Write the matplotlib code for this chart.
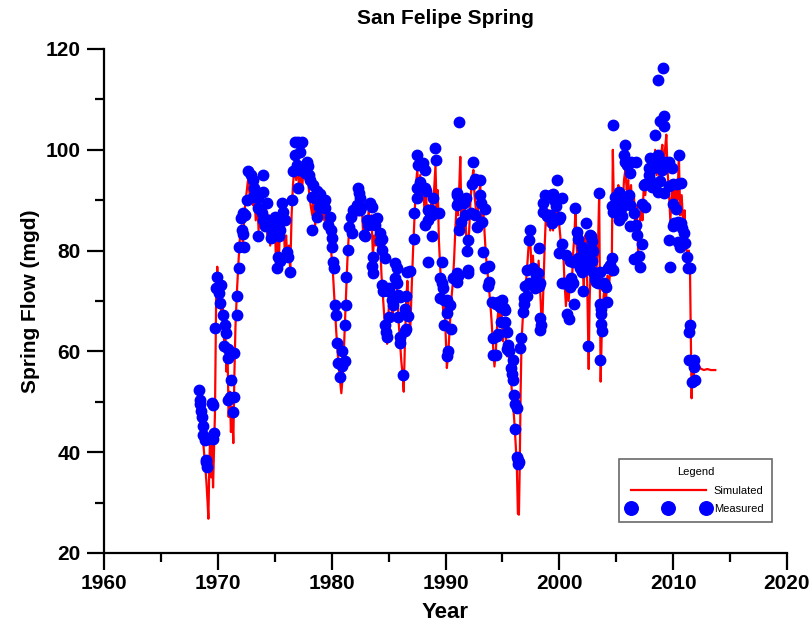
import numpy as np
import matplotlib
matplotlib.use('Agg')
import matplotlib.pyplot as plt
from matplotlib.ticker import MultipleLocator

plt.rcParams['font.family'] = ['Liberation Sans', 'DejaVu Sans']

sim_year = [1968.30, 1968.45, 1968.60, 1968.75, 1968.90, 1969.00, 1969.10, 1969.17, 1969.25, 1969.33,
            1969.42, 1969.50, 1969.58, 1969.66, 1969.75, 1969.85, 1969.95, 1970.05, 1970.18, 1970.30,
            1970.42, 1970.55, 1970.65, 1970.75, 1970.85, 1970.95, 1971.05, 1971.15, 1971.25, 1971.36,
            1971.45, 1971.55, 1971.68, 1971.82, 1971.95, 1972.08, 1972.20, 1972.35, 1972.50, 1972.65,
            1972.80, 1972.95, 1973.08, 1973.20, 1973.33, 1973.46, 1973.58, 1973.72, 1973.85, 1973.98,
            1974.10, 1974.22, 1974.35, 1974.48, 1974.60, 1974.72, 1974.85, 1975.00, 1975.12, 1975.25,
            1975.38, 1975.50, 1975.62, 1975.75, 1975.88, 1976.00, 1976.12, 1976.25, 1976.36, 1976.48,
            1976.60, 1976.75, 1976.88, 1977.00, 1977.12, 1977.25, 1977.40, 1977.55, 1977.70, 1977.85,
            1978.00, 1978.15, 1978.30, 1978.42, 1978.55, 1978.70, 1978.82, 1978.95, 1979.08, 1979.20,
            1979.35, 1979.50, 1979.65, 1979.80, 1979.95, 1980.10, 1980.25, 1980.40, 1980.55, 1980.70,
            1980.85, 1981.00, 1981.12, 1981.25, 1981.38, 1981.50, 1981.62, 1981.75, 1981.88, 1982.00,
            1982.12, 1982.25, 1982.38, 1982.50, 1982.62, 1982.75, 1982.88, 1983.00, 1983.12, 1983.25,
            1983.38, 1983.50, 1983.62, 1983.75, 1983.88, 1984.00, 1984.12, 1984.25, 1984.38, 1984.50,
            1984.62, 1984.75, 1984.87, 1985.00, 1985.12, 1985.25, 1985.38, 1985.50, 1985.62, 1985.75,
            1985.88, 1986.00, 1986.12, 1986.25, 1986.33, 1986.45, 1986.55, 1986.65, 1986.78, 1986.90,
            1987.02, 1987.15, 1987.28, 1987.40, 1987.52, 1987.65, 1987.78, 1987.90, 1988.02, 1988.15,
            1988.28, 1988.40, 1988.52, 1988.65, 1988.78, 1988.90, 1989.02, 1989.12, 1989.22, 1989.32,
            1989.42, 1989.55, 1989.68, 1989.80, 1989.92, 1990.02, 1990.12, 1990.25, 1990.38, 1990.50,
            1990.62, 1990.75, 1990.88, 1991.00, 1991.10, 1991.20, 1991.30, 1991.40, 1991.50, 1991.60,
            1991.70, 1991.82, 1991.95, 1992.08, 1992.20, 1992.32, 1992.45, 1992.55, 1992.68, 1992.80,
            1992.92, 1993.05, 1993.18, 1993.30, 1993.42, 1993.55, 1993.68, 1993.80, 1993.92, 1994.05,
            1994.18, 1994.30, 1994.42, 1994.55, 1994.68, 1994.80, 1994.92, 1995.05, 1995.18, 1995.30,
            1995.42, 1995.55, 1995.68, 1995.80, 1995.92, 1996.05, 1996.18, 1996.28, 1996.36, 1996.45,
            1996.52, 1996.60, 1996.68, 1996.80, 1996.92, 1997.05, 1997.18, 1997.30, 1997.42, 1997.55,
            1997.68, 1997.80, 1997.92, 1998.05, 1998.18, 1998.30, 1998.40, 1998.48, 1998.58, 1998.70,
            1998.82, 1998.95, 1999.08, 1999.20, 1999.32, 1999.45, 1999.58, 1999.70, 1999.82, 1999.95,
            2000.08, 2000.20, 2000.32, 2000.45, 2000.58, 2000.70, 2000.82, 2000.95, 2001.08, 2001.20,
            2001.32, 2001.42, 2001.52, 2001.65, 2001.78, 2001.90, 2002.02, 2002.15, 2002.28, 2002.40,
            2002.52, 2002.58, 2002.66, 2002.78, 2002.90, 2003.02, 2003.15, 2003.28, 2003.40, 2003.50,
            2003.57, 2003.63, 2003.72, 2003.85, 2003.98, 2004.10, 2004.22, 2004.35, 2004.48, 2004.60,
            2004.70, 2004.80, 2004.92, 2005.05, 2005.18, 2005.30, 2005.42, 2005.55, 2005.68, 2005.80,
            2005.92, 2006.05, 2006.18, 2006.30, 2006.42, 2006.55, 2006.68, 2006.80, 2006.92, 2007.05,
            2007.18, 2007.30, 2007.42, 2007.55, 2007.68, 2007.80, 2007.92, 2008.05, 2008.18, 2008.30,
            2008.42, 2008.55, 2008.68, 2008.80, 2008.92, 2009.05, 2009.15, 2009.28, 2009.40, 2009.50,
            2009.62, 2009.75, 2009.88, 2010.00, 2010.12, 2010.25, 2010.38, 2010.50, 2010.62, 2010.75,
            2010.88, 2011.00, 2011.12, 2011.25, 2011.38, 2011.48, 2011.55, 2011.62, 2011.70, 2011.80,
            2011.92, 2012.05, 2012.20, 2012.40, 2012.70, 2013.00, 2013.30, 2013.70]
sim_flow = [48, 46, 44, 41, 37, 34, 30, 26.8, 37, 44,
            35, 42, 33, 40, 48, 70, 76.8, 71, 73, 67,
            70, 62, 65, 56, 60, 47, 52, 44, 49, 41.8,
            55, 65, 72, 78, 83, 85, 81, 88, 91, 94,
            91, 93, 89, 92, 86, 90, 84, 89, 85, 90,
            85, 89, 83, 87, 81, 86, 83, 86, 77, 84,
            79, 88, 84, 87, 80, 83, 78, 81, 76, 87,
            93, 97, 94, 98, 93, 96, 92, 97, 94, 96,
            92, 89, 87, 91, 85, 89, 86, 90, 87, 89,
            86, 88, 84, 85, 80, 76, 70, 64, 59, 55,
            51.7, 56, 63, 71, 78, 83, 86, 84, 88, 86,
            89, 87, 91, 88, 90, 84, 82, 86, 84, 88,
            85, 87, 79, 83, 81, 85, 80, 82, 75, 71,
            67, 63, 61.5, 68, 72, 69, 67, 74, 77, 72,
            66, 62, 58, 55, 52, 63, 70, 74, 68, 64,
            72, 80, 87, 93, 96, 91, 95, 90, 94, 88,
            92, 86, 89, 85, 91, 88, 93, 97, 88, 92,
            82, 76, 72, 68, 70, 63, 56.7, 60, 65, 70,
            73, 78, 85, 90, 87, 92, 98.6, 86, 90, 84,
            89, 83, 80, 84, 90, 94, 96, 91, 88, 85,
            91, 93, 86, 89, 84, 79, 76, 73, 70, 66,
            61, 57, 60, 66, 69, 66, 68, 62, 66, 63,
            59, 61, 56, 53, 50, 46, 41, 36, 27.8, 27.6,
            37, 52, 62, 67, 70, 73, 77, 81, 84, 76,
            79, 74, 77, 72, 78, 73, 68, 63.9, 71, 80,
            87, 85, 88, 84, 87, 84, 89, 87, 91, 86,
            83, 79, 81, 74, 69, 73, 70, 75, 72, 79,
            83, 88, 81, 77, 82, 75, 78, 73, 83, 80,
            65, 56.5, 70, 79, 75, 78, 73, 77, 81, 91,
            70, 54, 63, 70, 73, 70, 75, 72, 77, 75,
            100, 88, 91, 86, 93, 89, 92, 88, 94, 96,
            92, 94, 89, 93, 87, 91, 85, 89, 80, 84,
            90, 86, 93, 91, 95, 93, 97, 95, 99, 96,
            100, 95, 98, 94, 99, 101, 96, 100, 103, 96,
            92, 86, 91, 93, 88, 94, 90, 99, 87, 91,
            85, 88, 81, 79, 80, 76, 64, 50.7, 58, 55,
            59, 57, 57.5, 56.6, 56.3, 56.5, 56.3, 56.3]

obs_year = [1968.35, 1968.42, 1968.40, 1968.50, 1968.62, 1968.73, 1968.70, 1968.85, 1968.95, 1969.05,
            1969.00, 1969.10, 1969.46, 1969.58, 1969.70, 1969.55, 1969.75, 1969.90, 1969.82, 1970.25,
            1970.10, 1970.20, 1970.45, 1970.60, 1970.70, 1970.58, 1970.90, 1970.85, 1971.45, 1971.20,
            1970.93, 1971.10, 1971.38, 1971.30, 1971.65, 1971.65, 1971.86, 1971.86, 1972.10, 1972.22,
            1972.30, 1972.00, 1972.18, 1972.40, 1972.54, 1972.68, 1972.95, 1973.10, 1973.22, 1973.08,
            1973.32, 1973.50, 1974.00, 1974.00, 1973.56, 1973.85, 1973.97, 1973.55, 1974.30, 1974.42,
            1974.15, 1974.55, 1974.73, 1975.00, 1975.12, 1974.68, 1975.60, 1975.72, 1975.88, 1975.48,
            1975.38, 1975.30, 1975.18, 1975.50, 1976.05, 1976.20, 1976.35, 1976.50, 1976.60, 1976.78,
            1976.80, 1977.05, 1977.40, 1977.20, 1976.92, 1977.10, 1977.80, 1977.95, 1977.68, 1977.07,
            1978.05, 1978.10, 1978.40, 1978.70, 1978.25, 1978.70, 1978.25, 1979.00, 1979.20, 1978.50,
            1978.90, 1979.40, 1979.45, 1979.86, 1979.70, 1979.90, 1980.00, 1980.05, 1980.15, 1980.22,
            1980.30, 1980.40, 1980.45, 1980.90, 1980.60, 1980.95, 1980.75, 1981.20, 1981.20, 1981.27,
            1981.30, 1981.47, 1981.55, 1981.70, 1981.76, 1981.90, 1982.20, 1982.35, 1982.40, 1982.50,
            1982.30, 1982.45, 1982.60, 1982.80, 1982.90, 1983.10, 1983.40, 1983.50, 1983.20, 1983.60,
            1983.96, 1983.80, 1984.25, 1984.40, 1983.67, 1983.50, 1983.67, 1984.25, 1984.40, 1984.70,
            1984.40, 1984.50, 1984.95, 1985.05, 1985.30, 1985.40, 1985.00, 1984.70, 1984.80, 1984.85,
            1985.60, 1985.75, 1985.60, 1985.75, 1985.86, 1986.00, 1985.86, 1986.00, 1986.00, 1986.30,
            1986.40, 1986.50, 1986.40, 1986.50, 1986.60, 1986.88, 1986.70, 1987.20, 1987.20, 1987.50,
            1987.60, 1987.50, 1987.50, 1987.80, 1988.06, 1988.20, 1988.28, 1988.20, 1988.50, 1988.62,
            1988.20, 1988.50, 1988.85, 1988.75, 1989.40, 1989.10, 1989.20, 1988.90, 1988.80, 1988.50,
            1989.67, 1989.50, 1989.67, 1989.80, 1989.50, 1989.90, 1990.15, 1990.40, 1990.10, 1989.90,
            1990.50, 1990.25, 1990.10, 1990.70, 1990.85, 1991.00, 1991.00, 1991.00, 1991.15, 1992.45,
            1992.60, 1993.00, 1992.30, 1991.00, 1991.10, 1991.40, 1991.60, 1991.80, 1991.40, 1991.15,
            1991.70, 1992.25, 1992.55, 1993.00, 1993.10, 1993.50, 1993.20, 1992.80, 1992.00, 1991.90,
            1992.00, 1992.02, 1991.10, 1991.00, 1993.30, 1993.50, 1993.80, 1993.80, 1993.70, 1994.07,
            1994.65, 1994.95, 1995.10, 1995.20, 1994.40, 1994.75, 1994.90, 1995.20, 1994.20, 1994.50,
            1994.65, 1994.20, 1994.45, 1995.40, 1995.50, 1995.40, 1995.60, 1995.97, 1995.78, 1995.80,
            1995.90, 1996.00, 1996.10, 1996.25, 1996.10, 1996.30, 1996.40, 1996.35, 1996.45, 1996.65,
            1996.55, 1996.85, 1996.92, 1996.88, 1997.15, 1997.00, 1997.30, 1997.15, 1997.30, 1997.40,
            1997.65, 1997.95, 1998.10, 1998.10, 1998.25, 1998.30, 1997.90, 1997.80, 1998.30, 1998.35,
            1998.30, 1998.20, 1998.60, 1998.60, 1998.75, 1998.90, 1999.30, 1999.40, 1999.55, 1999.70,
            1999.20, 1999.35, 1999.80, 2000.20, 2000.05, 2000.00, 2000.20, 1999.95, 2000.55, 2000.20,
            2000.45, 2000.75, 2000.90, 2001.20, 2001.05, 2000.90, 2001.20, 2001.60, 2002.00, 2002.15,
            2002.25, 2000.70, 2000.85, 2001.30, 2001.40, 2001.55, 2001.65, 2001.95, 2002.05, 2001.85,
            2002.00, 2002.10, 2002.40, 2002.10, 2002.30, 2002.80, 2002.90, 2002.55, 2002.95, 2002.85,
            2003.10, 2003.25, 2003.40, 2003.55, 2003.45, 2003.60, 2003.65, 2003.70, 2003.75, 2003.60,
            2002.70, 2002.80, 2002.70, 2003.20, 2003.00, 2004.00, 2003.90, 2004.10, 2003.65, 2004.45,
            2004.30, 2004.60, 2004.70, 2004.20, 2004.75, 2004.75, 2004.65, 2004.90, 2005.20, 2005.40,
            2005.50, 2005.65, 2005.50, 2005.20, 2005.80, 2005.65, 2005.80, 2005.95, 2006.30, 2006.70,
            2006.20, 2006.10, 2006.25, 2006.55, 2006.25, 2006.75, 2006.85, 2006.60, 2007.00, 2007.05,
            2007.25, 2007.40, 2007.55, 2007.30, 2007.55, 2008.00, 2007.85, 2008.00, 2008.15, 2007.85,
            2008.25, 2008.55, 2008.70, 2008.40, 2008.85, 2009.20, 2009.20, 2008.70, 2009.15, 2008.70,
            2008.85, 2009.00, 2009.30, 2009.60, 2009.90, 2009.20, 2009.65, 2009.95, 2010.35, 2010.65,
            2009.95, 2010.25, 2010.10, 2009.95, 2010.40, 2010.65, 2010.80, 2010.95, 2009.60, 2009.70,
            2010.50, 2010.45, 2010.60, 2011.05, 2011.20, 2011.30, 2011.45, 2011.50, 2011.40, 2011.35,
            2011.80, 2011.80, 2011.65, 2011.90]
obs_flow = [52.3, 50.4, 49.6, 48.2, 47.0, 45.1, 43.4, 42.5, 38.4, 37.1,
            38.0, 42.6, 49.8, 49.3, 43.8, 42.6, 64.6, 74.8, 72.6, 73.2,
            71.5, 69.6, 67.2, 65.2, 63.6, 61.0, 60.4, 58.7, 59.7, 54.3,
            50.4, 51.0, 51.0, 48.0, 70.9, 67.2, 76.5, 80.8, 84.1, 83.2,
            80.8, 86.5, 87.5, 87.0, 90.0, 95.7, 95.0, 94.0, 92.4, 90.7,
            91.7, 90.4, 91.7, 95.0, 88.4, 87.5, 86.1, 82.8, 89.4, 86.1,
            84.8, 85.3, 83.5, 86.7, 84.8, 82.5, 89.4, 87.7, 86.1, 84.1,
            82.8, 78.8, 76.5, 78.0, 79.8, 78.8, 75.8, 90.0, 95.7, 99.0,
            101.6, 101.6, 101.6, 99.6, 97.0, 96.0, 97.6, 96.7, 95.4, 92.4,
            95.0, 94.0, 93.0, 91.9, 90.7, 86.7, 84.1, 91.3, 88.7, 90.5,
            88.7, 90.0, 88.4, 86.7, 85.0, 84.1, 82.5, 80.8, 77.8, 76.5,
            69.2, 67.2, 61.6, 60.0, 57.6, 57.2, 55.0, 58.0, 65.2, 69.2,
            74.8, 80.1, 84.7, 86.7, 83.5, 88.0, 89.0, 92.4, 91.4, 90.5,
            88.0, 88.0, 88.7, 83.1, 82.8, 86.1, 89.4, 88.7, 85.0, 86.0,
            86.4, 85.0, 83.4, 82.4, 78.8, 77.0, 75.5, 81.9, 80.1, 78.5,
            73.2, 71.9, 71.9, 72.6, 70.2, 69.2, 66.9, 65.2, 63.9, 62.9,
            77.5, 76.5, 74.5, 73.5, 71.2, 70.8, 66.9, 62.9, 61.6, 55.3,
            64.0, 64.5, 68.5, 71.0, 75.8, 76.0, 67.0, 82.4, 87.4, 99.0,
            97.0, 92.4, 90.5, 93.7, 97.3, 92.4, 91.8, 96.0, 88.1, 87.4,
            85.1, 86.1, 87.0, 88.0, 87.4, 100.3, 98.0, 90.5, 82.8, 77.8,
            77.8, 74.5, 73.6, 72.6, 70.5, 70.2, 70.2, 69.2, 67.6, 65.2,
            64.5, 60.0, 59.0, 74.5, 74.5, 75.5, 91.0, 89.0, 105.6, 97.6,
            94.3, 94.0, 93.3, 91.4, 89.5, 90.0, 89.5, 90.5, 85.7, 84.0,
            87.0, 87.5, 87.0, 91.0, 89.5, 88.3, 85.7, 84.7, 82.1, 80.0,
            76.2, 75.5, 75.0, 73.8, 79.8, 76.5, 77.0, 73.8, 73.0, 69.9,
            69.9, 70.2, 68.7, 68.2, 69.5, 68.8, 65.9, 65.9, 62.6, 63.0,
            63.4, 59.3, 59.3, 63.9, 61.3, 60.4, 60.0, 58.3, 56.8, 55.5,
            54.3, 51.3, 49.6, 48.7, 44.7, 39.0, 38.5, 37.7, 38.0, 62.6,
            60.6, 67.9, 69.5, 70.5, 70.9, 73.0, 73.5, 76.2, 82.1, 84.1,
            76.5, 75.2, 75.5, 73.0, 73.0, 73.5, 72.5, 73.5, 66.6, 65.2,
            64.3, 80.5, 89.4, 87.6, 91.0, 86.8, 91.0, 91.3, 90.0, 88.8,
            87.0, 85.5, 94.1, 90.4, 86.6, 86.3, 81.4, 79.5, 79.2, 73.5,
            73.5, 73.3, 72.8, 73.6, 74.5, 78.0, 77.7, 78.5, 78.8, 79.5,
            78.8, 67.4, 66.4, 69.5, 88.4, 83.7, 82.3, 80.7, 80.2, 76.5,
            75.8, 76.6, 76.6, 71.9, 85.4, 82.9, 81.9, 61.0, 80.0, 78.0,
            74.4, 73.7, 73.5, 75.8, 91.4, 69.5, 68.5, 67.5, 64.0, 58.3,
            83.1, 80.5, 79.0, 75.2, 75.8, 73.2, 73.5, 72.8, 65.5, 77.1,
            76.5, 78.5, 76.2, 69.9, 104.9, 87.7, 88.8, 90.6, 91.6, 89.4,
            88.7, 89.7, 86.8, 86.0, 101.0, 99.0, 97.6, 97.0, 97.6, 97.6,
            95.3, 91.0, 89.0, 87.4, 84.8, 85.1, 83.1, 78.3, 78.9, 76.8,
            81.4, 93.0, 93.3, 89.3, 88.7, 98.3, 96.3, 94.0, 92.7, 95.0,
            96.3, 97.6, 98.9, 103.0, 105.7, 106.7, 104.7, 113.8, 116.3, 91.6,
            93.9, 96.0, 97.6, 97.6, 96.3, 91.4, 92.9, 93.2, 93.2, 93.5,
            89.3, 88.3, 85.4, 84.8, 85.7, 85.4, 84.4, 83.4, 82.1, 76.8,
            99.0, 81.8, 80.8, 81.5, 78.8, 76.5, 76.5, 65.2, 63.9, 58.3,
            58.3, 57.0, 54.0, 54.3]

fig = plt.figure(figsize=(8.12, 6.28), dpi=100)
ax = fig.add_axes([104 / 812, 75 / 628, 683 / 812, 504 / 628])

ax.plot(sim_year, sim_flow, color='#ff0000', lw=1.6, label='Simulated', zorder=2)
ax.plot(obs_year, obs_flow, 'o', color='#0000ff', ms=7.5, mec='#0000ff', label='Measured', zorder=3)

ax.set_xlim(1960, 2020)
ax.set_ylim(20, 120)
ax.xaxis.set_major_locator(MultipleLocator(10))
ax.xaxis.set_minor_locator(MultipleLocator(5))
ax.yaxis.set_major_locator(MultipleLocator(20))
ax.yaxis.set_minor_locator(MultipleLocator(10))

for s in ['top', 'right']:
    ax.spines[s].set_visible(False)
for s in ['left', 'bottom']:
    ax.spines[s].set_linewidth(1.6)

ax.tick_params(which='major', direction='out', length=12, width=1.6, labelsize=15, pad=3)
ax.tick_params(which='minor', direction='out', length=6.5, width=1.6)
ax.tick_params(axis='y', which='major', pad=5)
for lab in ax.get_xticklabels() + ax.get_yticklabels():
    lab.set_fontweight('bold')

ax.set_xlabel('Year', fontsize=16, fontweight='bold')
ax.set_ylabel('Spring Flow (mgd)', fontsize=15, fontweight='bold')
ax.xaxis.set_label_coords(0.5, -0.097)
ax.yaxis.set_label_coords(-0.093, 0.5)

fig.text(445.5 / 812, 1 - 18 / 628, 'San Felipe Spring', ha='center', va='center',
         fontsize=15, fontweight='bold')

leg = ax.legend(loc='upper left', bbox_to_anchor=(0.754, 0.1865), borderaxespad=0,
                title='Legend', fontsize=8, title_fontsize=8, numpoints=3,
                handlelength=7.4, markerscale=1.3, frameon=True, fancybox=False,
                edgecolor='#444444', labelspacing=0.75, borderpad=0.75, handletextpad=0.4)
leg.get_frame().set_linewidth(1.2)

fig.savefig('out.png', dpi=100)
